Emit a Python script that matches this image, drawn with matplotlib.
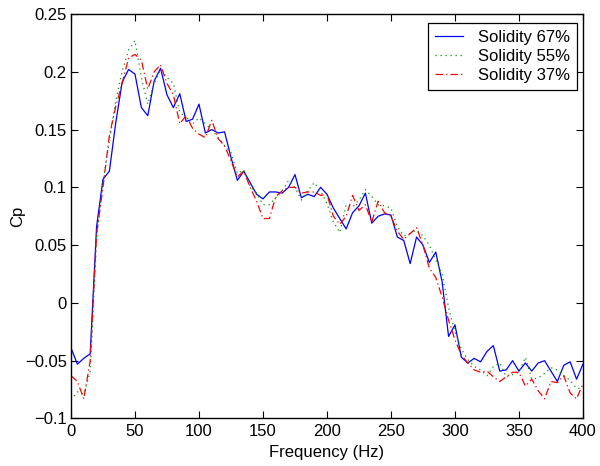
import matplotlib
matplotlib.use("Agg")
import matplotlib.pyplot as plt
import numpy as np

freq = list(range(0, 405, 5))

cp_67 = [-0.039, -0.053, -0.048, -0.044, 0.066, 0.107, 0.114, 0.156, 0.191, 0.202,
         0.198, 0.169, 0.162, 0.192, 0.203, 0.180, 0.169, 0.181, 0.157, 0.159,
         0.172, 0.147, 0.150, 0.147, 0.148, 0.126, 0.106, 0.114, 0.104, 0.094,
         0.090, 0.096, 0.096, 0.095, 0.100, 0.111, 0.091, 0.094, 0.092, 0.100,
         0.094, 0.082, 0.073, 0.064, 0.078, 0.084, 0.095, 0.069, 0.075, 0.077,
         0.076, 0.057, 0.054, 0.034, 0.057, 0.050, 0.035, 0.044, 0.018, -0.029,
         -0.019, -0.047, -0.052, -0.048, -0.051, -0.042, -0.037, -0.059, -0.058, -0.050,
         -0.059, -0.052, -0.059, -0.052, -0.050, -0.059, -0.068, -0.054, -0.051, -0.066,
         -0.053]

cp_55 = [-0.084, -0.077, -0.079, -0.060, 0.055, 0.105, 0.140, 0.175, 0.200, 0.219,
         0.227, 0.195, 0.172, 0.190, 0.202, 0.195, 0.190, 0.165, 0.160, 0.155,
         0.160, 0.155, 0.150, 0.143, 0.136, 0.130, 0.112, 0.115, 0.101, 0.095,
         0.085, 0.085, 0.091, 0.097, 0.106, 0.100, 0.089, 0.097, 0.104, 0.097,
         0.086, 0.070, 0.061, 0.085, 0.083, 0.089, 0.098, 0.092, 0.085, 0.084,
         0.082, 0.066, 0.058, 0.060, 0.063, 0.058, 0.050, 0.037, 0.025, -0.004,
         -0.025, -0.040, -0.049, -0.055, -0.058, -0.063, -0.055, -0.052, -0.064, -0.062,
         -0.060, -0.047, -0.066, -0.065, -0.061, -0.056, -0.058, -0.063, -0.067, -0.074,
         -0.074]

cp_37 = [-0.063, -0.068, -0.083, -0.050, 0.060, 0.100, 0.145, 0.170, 0.190, 0.212,
         0.215, 0.210, 0.185, 0.200, 0.206, 0.190, 0.180, 0.155, 0.162, 0.151,
         0.146, 0.143, 0.158, 0.142, 0.136, 0.123, 0.109, 0.114, 0.100, 0.088,
         0.073, 0.073, 0.092, 0.097, 0.100, 0.100, 0.095, 0.096, 0.096, 0.093,
         0.094, 0.075, 0.068, 0.075, 0.093, 0.080, 0.085, 0.070, 0.088, 0.078,
         0.075, 0.062, 0.055, 0.060, 0.065, 0.050, 0.030, 0.022, 0.005, -0.015,
         -0.032, -0.045, -0.052, -0.058, -0.060, -0.059, -0.064, -0.068, -0.064, -0.060,
         -0.060, -0.072, -0.066, -0.076, -0.083, -0.068, -0.069, -0.063, -0.078, -0.083,
         -0.070]

series_labels = ["Solidity 67%", "Solidity 55%", "Solidity 37%"]
x_ticks = [0, 50, 100, 150, 200, 250, 300, 350, 400]
y_ticks = [-0.1, -0.05, 0, 0.05, 0.1, 0.15, 0.2, 0.25]
y_tick_labels = ["\u22120.1", "\u22120.05", "0", "0.05", "0.1", "0.15", "0.2", "0.25"]

plt.rcParams['font.family'] = ['Liberation Sans', 'DejaVu Sans']
FS = 12

fig = plt.figure(figsize=(6.0, 4.66), dpi=100)
ax = fig.add_axes([0.1183, 0.102, 0.8533, 0.868])

ax.plot(freq, cp_67, color=(0, 0, 1), linestyle='-', linewidth=0.9, label=series_labels[0])
ax.plot(freq, cp_55, color=(0, 0.6, 0), linestyle=(0, (1, 3)), linewidth=0.9, label=series_labels[1])
ax.plot(freq, cp_37, color=(1, 0, 0), linestyle=(0, (6, 2.5, 1, 2.5)), linewidth=0.9, label=series_labels[2])

ax.set_xlim(0, 400)
ax.set_ylim(-0.1, 0.25)
ax.set_xticks(x_ticks)
ax.set_xticklabels([str(t) for t in x_ticks])
ax.set_yticks(y_ticks)
ax.set_yticklabels(y_tick_labels)
ax.tick_params(direction='in', top=True, right=True, length=5, width=0.8, labelsize=FS)
ax.tick_params(axis='x', pad=4)
ax.tick_params(axis='y', pad=3)
for s in ax.spines.values():
    s.set_linewidth(1.0)

ax.set_xlabel("Frequency (Hz)", fontsize=FS, labelpad=4)
ax.set_ylabel("Cp", fontsize=FS, labelpad=0)

leg = ax.legend(loc='upper right', bbox_to_anchor=(0.988, 0.977), fancybox=False,
                edgecolor='black', framealpha=1, borderpad=0.4, handlelength=1.7,
                labelspacing=0.25, handletextpad=0.9, fontsize=FS, borderaxespad=0.0)
leg.get_frame().set_linewidth(0.9)

fig.savefig("out.png", dpi=100)
